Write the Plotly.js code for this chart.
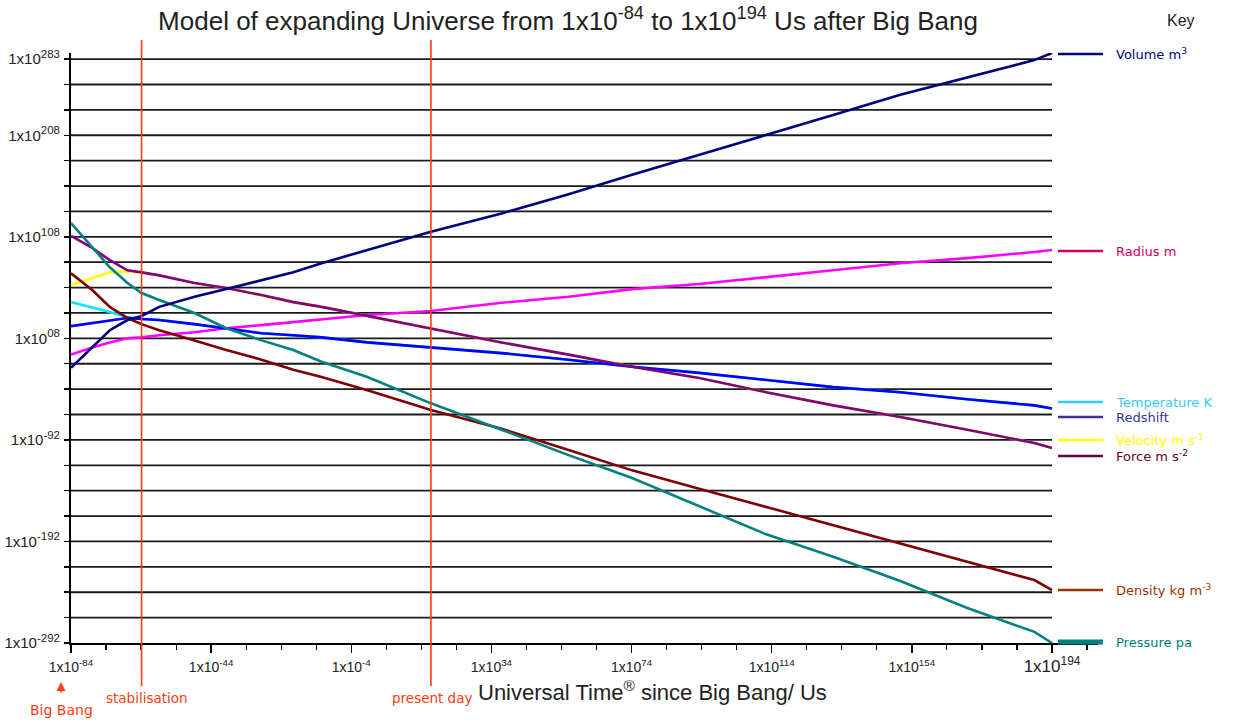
<!DOCTYPE html>
<html>
<head>
<meta charset="utf-8">
<script src="https://cdn.plot.ly/plotly-3.0.1.min.js"></script>
<style>
html,body{margin:0;padding:0;background:#fff;}
#chart{width:1241px;height:723px;}
</style>
</head>
<body>
<div id="chart"></div>
<script>
// ---- DATA (log10 values: time in Us, quantities in their units) ----
const timeExp = [-84, -78, -73, -68, -64, -59, -49, -40, -30, -21, -13, 0, 18, 38, 57, 75, 94, 113, 132, 151, 170, 189, 194];

const volume      = [-21, -1, 16, 26, 30, 39, 49, 56.5, 65, 73, 82, 95, 113, 131, 150, 169, 188.5, 208, 228, 248, 265, 282, 289];
const radius      = [-8, -1, 4, 8, 9, 11, 14, 18, 21, 24, 26, 31, 35, 43, 49, 56.5, 61.5, 68, 75, 82, 87, 93, 95];
const temperature = [43.7, 38.8, 34, 29, 27, 26, 22, 18, 13, 11, 9, 4, -1, -6.5, -13, -20, -26, -33, -40, -45, -52, -58, -61];
const redshift    = [20, 23, 26, 28, 27, 26, 22, 18, 13, 11, 9, 4, -1, -6.5, -13, -20, -26, -33, -40, -45, -52, -58, -61];
const velocity    = [60.5, 67, 73, 74, 73, 70, 62.5, 57.5, 50.6, 43.7, 39, 30, 18, 4, -8, -20, -31, -45, -58, -69.5, -82, -95, -100];
const force       = [109, 97, 85, 75, 73, 70, 62.5, 57.5, 50.6, 43.7, 39, 30, 18, 4, -8, -20, -31, -45, -58, -69.5, -82, -95, -100];
const density     = [72, 55.6, 39, 28, 22, 16, 6, -3.5, -13, -23, -30, -43, -62.6, -81, -102, -122, -140, -158, -176, -194.5, -212, -230, -240];
const pressure    = [121.5, 98, 78, 62.5, 52.6, 45.7, 33, 18, 6, -3.5, -15, -30, -56, -82, -107, -129.5, -157, -185, -207, -231, -257.5, -281, -292];

const stabilisationExp = -64;
const presentDayExp = 18;

const xTickExps = ['-84', '-44', '-4', '34', '74', '114', '154', '194'];
const yTickVals = [-292, -192, -92, 8, 108, 208, 283];
const yTickExps = ['-292', '-192', '-92', '08', '108', '208', '283'];

const keyNames = ['Volume m<sup>3</sup>', 'Radius m', 'Temperature K', 'Redshift', 'Velocity m s<sup>-1</sup>', 'Force m s<sup>-2</sup>', 'Density kg m<sup>-3</sup>', 'Pressure pa'];

// ---- LAYOUT HELPERS ----
const L = 71, R = 1098, T = 53, B = 643;
const px = v => (v - L) / (R - L);
const py = v => (B - v) / (B - T);
const xMin = -84, xMaxTick = 194;
const xStep = (xMaxTick - xMin) / 7;
const xTickVals = [];
for (let i = 0; i < 8; i++) xTickVals.push(xMin + i * xStep);
const xRangeMax = xMin + (R - L) * (xMaxTick - xMin) / (1052 - L);

const xTickText = xTickExps.map((e, i) => i === 7
  ? '<span style="font-size:17px">1x10<sup>' + e + '</sup></span>'
  : '1x10<sup>' + e + '</sup>');
const yTickText = yTickExps.map(e => '1x10<sup><span style="font-size:11.5px">' + e + '</span></sup>');

function tr(y, color, name) {
  return {x: timeExp, y: y, type: 'scatter', mode: 'lines', name: name,
    line: {color: color, width: 2.6}, hoverinfo: 'skip'};
}
const traces = [
  tr(velocity, '#ffff00', 'Velocity'),
  tr(temperature, '#00e8ff', 'Temperature'),
  tr(radius, '#ff00ff', 'Radius'),
  tr(redshift, '#0000ff', 'Redshift'),
  tr(force, '#800080', 'Force'),
  tr(density, '#800000', 'Density'),
  tr(pressure, '#008080', 'Pressure'),
  tr(volume, '#000080', 'Volume')
];

const shapes = [];
for (let g = -267; g <= 283; g += 25) {
  shapes.push({type: 'line', xref: 'x', yref: 'y', x0: xMin, x1: xMaxTick, y0: g, y1: g,
    line: {color: '#1a1a1a', width: 1.8}, layer: 'below'});
}
[stabilisationExp, presentDayExp].forEach(v => {
  shapes.push({type: 'line', xref: 'x', yref: 'paper', x0: v, x1: v, y0: py(686), y1: py(40),
    line: {color: '#ff3b10', width: 1.6}, layer: 'above'});
});

const keyPy = [54, 251, 402, 417, 440, 456, 590, 642];
const keyLineCol = ['#000080', '#cc0066', '#33ccff', '#333399', '#ffff00', '#660033', '#993300', '#008080'];
const keyTextCol = ['#000080', '#cc0066', '#33ccff', '#333399', '#ffff00', '#660033', '#993300', '#008080'];
const annotations = [];
keyNames.forEach((n, i) => {
  shapes.push({type: 'line', xref: 'paper', yref: 'paper', x0: px(1058), x1: px(1103), y0: py(keyPy[i]), y1: py(keyPy[i]),
    line: {color: keyLineCol[i], width: i === 7 ? 5 : 2.5}});
  annotations.push({xref: 'paper', yref: 'paper', x: px(1114), y: py(keyPy[i]), xanchor: 'left', yanchor: 'middle',
    text: n, showarrow: false, font: {family: 'DejaVu Sans', size: 13, color: keyTextCol[i]}});
});

const red = '#ff3b10';
annotations.push({xref: 'paper', yref: 'paper', x: px(1181), y: py(20), xanchor: 'center', yanchor: 'middle', text: 'Key', showarrow: false,
  font: {family: 'Liberation Sans', size: 16, color: '#222'}});
annotations.push({xref: 'paper', yref: 'paper', x: px(476), y: py(707), xanchor: 'left', yanchor: 'bottom', text: 'Universal Time<sup>®</sup> since Big Bang/ Us', showarrow: false,
  font: {family: 'Liberation Sans', size: 22, color: '#222'}});
annotations.push({xref: 'paper', yref: 'paper', x: px(474), y: py(698), xanchor: 'right', yanchor: 'middle', text: 'present day', showarrow: false,
  font: {family: 'DejaVu Sans', size: 13.5, color: red}});
annotations.push({xref: 'paper', yref: 'paper', x: px(147), y: py(698), xanchor: 'center', yanchor: 'middle', text: 'stabilisation', showarrow: false,
  font: {family: 'DejaVu Sans', size: 13.5, color: red}});
annotations.push({xref: 'paper', yref: 'paper', x: px(61), y: py(710), xanchor: 'center', yanchor: 'middle', text: 'Big Bang', showarrow: false,
  font: {family: 'DejaVu Sans', size: 14, color: red}});
annotations.push({xref: 'paper', yref: 'paper', x: px(61), y: py(682), ax: 0, ay: 12, text: '', showarrow: true,
  arrowhead: 2, arrowsize: 1, arrowwidth: 1.8, arrowcolor: red});

const layout = {
  width: 1241, height: 723,
  margin: {l: L, r: 1241 - R, t: T, b: 723 - B, pad: 0},
  paper_bgcolor: '#fff', plot_bgcolor: '#fff',
  showlegend: false,
  title: {text: 'Model of expanding Universe from 1x10<sup>-84</sup> to 1x10<sup>194</sup> Us after Big Bang',
    x: 568 / 1241, xanchor: 'center', y: 1 - 21 / 723, yanchor: 'middle',
    font: {family: 'Liberation Sans', size: 26, color: '#222'}},
  xaxis: {range: [xMin, xRangeMax], showgrid: false, zeroline: false, showline: true, linecolor: '#000', linewidth: 2,
    tickmode: 'array', tickvals: xTickVals, ticktext: xTickText, ticks: 'outside', ticklen: 8, tickwidth: 1.5, tickcolor: '#000',
    ticklabelstandoff: 2,
    minor: {tickmode: 'linear', tick0: xMin, dtick: xStep / 4, ticks: 'outside', ticklen: 5, tickwidth: 1.2, tickcolor: '#000', showgrid: false},
    tickfont: {family: 'Liberation Sans', size: 14, color: '#222'}, fixedrange: true},
  yaxis: {range: [-292, 289], showgrid: false, zeroline: false, showline: true, linecolor: '#000', linewidth: 2,
    tickmode: 'array', tickvals: yTickVals, ticktext: yTickText, ticks: 'outside', ticklen: 5, tickwidth: 1.5, tickcolor: '#000',
    ticklabelstandoff: 1,
    minor: {tickmode: 'linear', tick0: -292, dtick: 25, ticks: 'outside', ticklen: 5, tickwidth: 1.5, tickcolor: '#000', showgrid: false},
    tickfont: {family: 'Liberation Sans', size: 15, color: '#222'}, fixedrange: true},
  shapes: shapes,
  annotations: annotations
};

Plotly.newPlot('chart', traces, layout, {staticPlot: true, displayModeBar: false});
</script>
</body>
</html>
